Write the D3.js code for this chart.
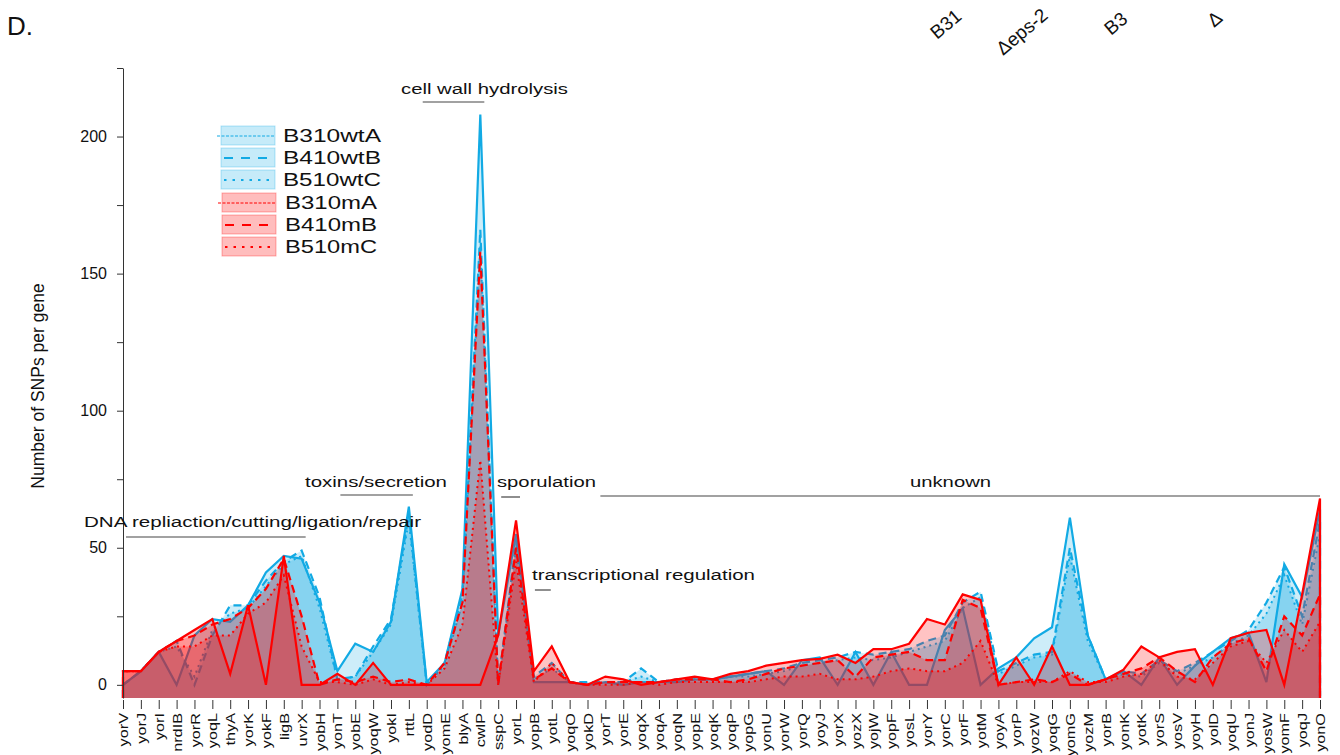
<!DOCTYPE html>
<html>
<head>
<meta charset="utf-8">
<script src="https://cdn.jsdelivr.net/npm/d3@7"></script>
<style>
  body { margin: 0; background: #fff; }
  text { font-family: "Liberation Sans", Arial, sans-serif; fill: #111; }
</style>
</head>
<body>
<svg id="chart" width="1340" height="755"></svg>
<script>
// gene names along the x axis
const genes = ["yorV","yorJ","yorI","nrdIB","yorR","yoqL","thyA","yorK","yokF","ligB","uvrX","yobH","yonT","yobE","yoqW","yokI","rttL",
  "yodD","yomE","blyA","cwlP","sspC","yorL","yopB","yotL","yoqO","yokD","yorT","yorE","yoqX","yoqA","yoqN","yopE","yoqK",
  "yoqP","yopG","yonU","yorW","yorQ","yoyJ","yorX","yozX","yojW","yopF","yosL","yorY","yorC","yorF","yotM","yoyA","yorP",
  "yozW","yoqG","yomG","yozM","yorB","yonK","yotK","yorS","yosV","yoyH","yolD","yoqU","yonJ","yosW","yomF","yoqJ","yonO"];

// SNPs per gene
const wtA = [0,5,12,0,18,24,23,29,41,47,46,30,5,15,12,23,65,1,8,35,208,18,55,1,1,1,0,1,0,1,1,1,2,2,3,4,5,0,9,10,0,12,0,12,0,0,20,28,0,6,10,17,21,61,18,2,5,0,10,0,7,12,17,19,1,44,32,64];
const wtB = [0,5,12,16,0,18,29,29,38,45,49,32,2,3,14,24,62,0,8,33,166,0,52,3,8,1,1,1,1,6,1,2,2,2,3,4,5,6,8,9,10,12,11,12,13,16,18,30,34,5,8,11,12,50,18,2,5,4,9,5,8,12,16,20,30,43,25,60];
const wtC = [0,5,12,14,3,20,26,28,36,44,47,28,2,3,12,22,60,0,7,30,160,0,50,2,6,1,0,1,1,3,1,1,2,2,3,3,4,5,7,8,9,10,9,10,12,14,16,28,32,4,7,10,11,47,16,2,4,3,8,4,7,10,15,18,26,40,22,55];
const mA  = [5,5,12,16,20,24,4,29,0,47,0,0,4,0,8,0,0,0,0,0,0,18,60,5,14,1,0,3,2,0,1,2,3,2,4,5,7,8,9,9.5,11,8,13,13,15,24,22,33,31,0,10,0,14,0,0,2,5.5,14,10,12,13,0,17,19,20,0,33,68];
const mB  = [5,5,12,16,18,22,24,28,35,46,25,0,2,1,3,1,2,0,8,30,158,0,50,2,6,1,0,1,1,1,1,2,2,2,1,2,4,6,7,8,9,3,10,11,12,9,9,31,28,0,1,2,1,4,0,2,4,6,10,5,1,10,15,17,5,25,18,33];
const mC  = [5,5,12,14,14,18,18,26,30,40,14,1,1,0,2,0,1,0,6,22,82,0,45,1,8,1,0,0,0,1,0,1,1,1,1,1,2,3,3,4,2,2,3,5,6,5,5,8,16,0,1,1,1,5,1,1,3,4,9,3,2,8,14,16,8,20,12,23];

const seriesNames = ["B310wtA","B410wtB","B510wtC","B310mA","B410mB","B510mC"];
const yTicks = [0,25,50,75,100,125,150,175,200,225];

// functional groups: label, first gene, last gene
const groupLabels = ["DNA repliaction/cutting/ligation/repair","toxins/secretion","cell wall hydrolysis","sporulation","transcriptional regulation","unknown"];
const groupFrom = ["yorV","yonT","yodD","sspC","yopB","yorT"];
const groupTo   = ["uvrX","rttL","cwlP","yorL","yotL","yonO"];

var svg = d3.select("#chart");

var x = d3.scalePoint().domain(genes).range([123, 1320]);
var y = d3.scaleLinear().domain([-4.8, 225]).range([698, 68]);
var base = y.domain()[0];

var blue = "#12aae4", red = "#ff0000";

var series = [
  { name: seriesNames[0], values: wtA, color: blue, fill: 0.21, dash: null,  w: 2.2 },
  { name: seriesNames[1], values: wtB, color: blue, fill: 0.21, dash: "8,5", w: 2.2 },
  { name: seriesNames[2], values: wtC, color: blue, fill: 0.21, dash: "2,4", w: 2 },
  { name: seriesNames[3], values: mA,  color: red,  fill: 0.235, dash: null,  w: 2.2 },
  { name: seriesNames[4], values: mB,  color: red,  fill: 0.235, dash: "8,5", w: 2.2 },
  { name: seriesNames[5], values: mC,  color: red,  fill: 0.235, dash: "2,4", w: 2 }
];

var area = d3.area()
  .x((d, i) => x(genes[i]))
  .y0(y(base))
  .y1(d => y(d));

var outline = d3.line();

function outlinePts(vals) {
  let pts = [[x(genes[0]), y(base)]];
  vals.forEach((v, i) => pts.push([x(genes[i]), y(v)]));
  pts.push([x(genes[genes.length - 1]), y(base)]);
  return pts;
}

var plot = svg.append("g");

// blue group first, red on top; fills then lines per group
[series.slice(0, 3), series.slice(3)].forEach(grp => {
  plot.append("g").selectAll("path.area")
    .data(grp).enter().append("path")
    .attr("class", "area")
    .attr("d", d => area(d.values))
    .attr("fill", d => d.color)
    .attr("fill-opacity", d => d.fill);
  plot.append("g").selectAll("path.line")
    .data(grp).enter().append("path")
    .attr("class", "line")
    .attr("d", d => outline(outlinePts(d.values)))
    .attr("fill", "none")
    .attr("stroke", d => d.color)
    .attr("stroke-width", d => d.w)
    .attr("stroke-linejoin", "miter")
    .attr("stroke-dasharray", d => d.dash);
});

// y axis
var yAxis = svg.append("g")
  .attr("transform", "translate(123,0)")
  .call(d3.axisLeft(y).tickValues(yTicks)
    .tickFormat(d => d % 50 === 0 ? d : "")
    .tickSize(6).tickSizeOuter(0).tickPadding(10));
yAxis.select(".domain").attr("stroke", "#333");
yAxis.selectAll(".tick line").attr("stroke", "#333");
yAxis.selectAll(".tick text")
  .attr("font-size", 16).attr("font-family", "Liberation Sans, Arial, sans-serif").attr("fill", "#111");

svg.append("text")
  .attr("transform", "translate(44,386) rotate(-90)")
  .attr("text-anchor", "middle")
  .attr("font-size", 17.5)
  .text("Number of SNPs per gene");

// x axis
var xAxis = svg.append("g")
  .attr("transform", "translate(0,700)")
  .call(d3.axisBottom(x).tickSize(9).tickSizeOuter(0).tickPadding(4));
xAxis.select(".domain").remove();
xAxis.selectAll(".tick line").attr("stroke", "#333");
xAxis.selectAll(".tick text")
  .attr("font-size", 13)
  .attr("font-family", "Liberation Sans, Arial, sans-serif")
  .attr("fill", "#111")
  .attr("text-anchor", "end")
  .attr("dy", null)
  .attr("y", 0)
  .attr("transform", "translate(0,13) rotate(-90) scale(1.25,1) translate(0,4.6)");

// group brackets
var labelPos = [[84, 527, 337, 537], [305, 487, 142, 495], [401, 94, 167, 102], [497, 487, 99, 497], [532, 580, 223, 590], [910, 487, 81, 496]];
var lineOff = [[3, 4], [3, 4], [-4, 4], [3, 4], [1, -1], [-5, 0]];
var ann = svg.append("g");
groupLabels.forEach((lab, i) => {
  let p = labelPos[i];
  ann.append("line")
    .attr("x1", x(groupFrom[i]) + lineOff[i][0]).attr("x2", x(groupTo[i]) + lineOff[i][1])
    .attr("y1", p[3]).attr("y2", p[3])
    .attr("stroke", "#444").attr("stroke-width", 1.2);
  ann.append("text")
    .attr("x", p[0]).attr("y", p[1])
    .attr("font-size", 15.5)
    .attr("textLength", p[2]).attr("lengthAdjust", "spacingAndGlyphs")
    .text(lab);
});

// legend
var legend = svg.append("g").attr("transform", "translate(221,126)");
var legDash = ["3,1.5", "9,8", "2.5,6"];
var legItems = legend.selectAll("g").data(series).enter().append("g")
  .attr("transform", (d, i) => "translate(" + (i < 3 ? 0 : 1) + "," + (i * 22 + (i < 3 ? 0 : 1)) + ")");
legItems.append("rect")
  .attr("width", 54).attr("height", 19)
  .attr("fill", d => d.color).attr("fill-opacity", (d, i) => i < 3 ? 0.24 : 0.26)
  .attr("stroke", d => d.color).attr("stroke-opacity", 0.3);
legItems.append("line")
  .attr("x1", (d, i) => i % 3 === 0 ? -4 : 3).attr("x2", 54)
  .attr("y1", 10).attr("y2", 10)
  .attr("stroke", d => d.color)
  .attr("stroke-width", (d, i) => i % 3 === 0 ? 1 : 2.2)
  .attr("stroke-dasharray", (d, i) => legDash[i % 3]);
legItems.append("text")
  .attr("x", (d, i) => i < 3 ? 62 : 63).attr("y", 16)
  .attr("font-size", 18)
  .attr("textLength", (d, i) => i < 3 ? 98 : 92).attr("lengthAdjust", "spacingAndGlyphs")
  .text(d => d.name);

// panel letter and headers of the neighbouring panel (only their tails show)
svg.append("text").attr("x", 7).attr("y", 35).attr("font-size", 26).text("D.");
var heads = ["B31", "\u0394eps-2", "B3", "\u0394"];
var headPos = [[937, 40], [1003, 56], [1111, 36], [1214, 28]];
heads.forEach((h, i) => {
  svg.append("text")
    .attr("transform", "translate(" + headPos[i][0] + "," + headPos[i][1] + ") rotate(-40)")
    .attr("font-size", 19)
    .attr("font-family", "Carlito, Liberation Sans, sans-serif")
    .text(h);
});
</script>
</body>
</html>
